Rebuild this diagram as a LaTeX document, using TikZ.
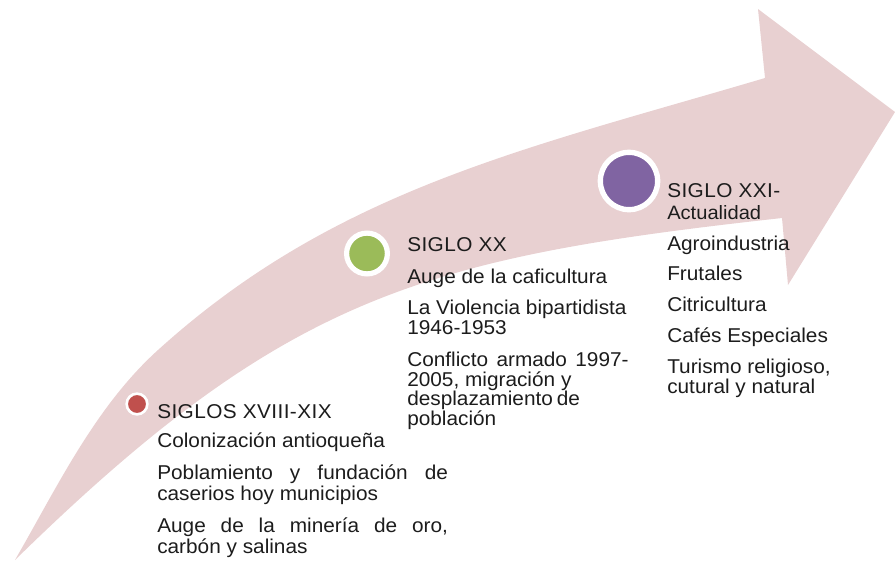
\documentclass[tikz,border=0pt]{standalone}
\usepackage{fontspec}
\setmainfont{Liberation Sans}[FakeStretch=1.04]
\definecolor{band}{RGB}{232,208,209}
\definecolor{ink}{RGB}{28,28,28}
\definecolor{cred}{HTML}{C0504D}
\definecolor{cgreen}{HTML}{9BBB59}
\definecolor{cpurple}{HTML}{8064A2}
\begin{document}
\begin{tikzpicture}[x=0.75pt,y=-0.75pt,
  txt/.style={anchor=base west, inner sep=0pt, text=ink, font=\fontsize{15}{15.4}\selectfont},
  head/.style={anchor=base west, inner sep=0pt, text=ink, font=\fontsize{15}{15.4}\selectfont\addfontfeatures{LetterSpace=2}},
  sub/.style={anchor=base west, inner sep=0pt, text=ink, font=\fontsize{14.5}{15.4}\selectfont},
  dot/.style={circle, draw=white, inner sep=0pt}]
\useasboundingbox (0,0) rectangle (895,561);
% curved arrow
\fill[band] (15,560) .. controls (57.5,486.4) and (95,407) .. (158,350)
  .. controls (335.6,189.2) and (525,149) .. (765,78)
  -- (758,9) -- (895,112) -- (788,285) -- (782,218)
  .. controls (424.2,257.6) and (286.7,294) .. (15,560) -- cycle;
% circles
\node[dot, fill=cred, line width=2pt, minimum size=15.5pt] (d1) at (137,404) {};
\node[dot, fill=cgreen, line width=3.9pt, minimum size=30.6pt] (d2) at (367,253.5) {};
\node[dot, fill=cpurple, line width=4pt, minimum size=43pt] (d3) at (629,181) {};
% column 1
\node[head] (a0) at (157,418) {SIGLOS XVIII-XIX};
\node[txt] (a1) at (157,447) {Colonización antioqueña};
\node[txt] (a2) at (157,479) {\makebox[218pt][s]{Poblamiento y fundación de}};
\node[txt] (a3) at (157,500) {caserios hoy municipios};
\node[txt] (a4) at (157,532) {\makebox[218pt][s]{Auge de la minería de oro,}};
\node[txt] (a5) at (157,553) {carbón y salinas};
% column 2
\node[head] (b0) at (407,251) {SIGLO XX};
\node[txt] (b1) at (407,283) {Auge de la caficultura};
\node[txt] (b2) at (407,314) {La Violencia bipartidista};
\node[txt] (b3) at (407,334) {1946-1953};
\node[txt] (b4) at (407,366) {\makebox[166pt][s]{Conflicto armado 1997-}};
\node[txt] (b5) at (407,386) {2005, migración y};
\node[txt] (b6) at (407,405) {\makebox[129pt][s]{desplazamiento de}};
\node[txt] (b7) at (407,425) {población};
% column 3
\node[head] (c0) at (667,197) {SIGLO XXI-};
\node[sub] (c1) at (667,219) {Actualidad};
\node[txt] (c2) at (667,250.7) {Agroindustria};
\node[txt] (c3) at (667,280) {Frutales};
\node[txt] (c4) at (667,311.7) {Citricultura};
\node[txt] (c5) at (667,342.3) {Cafés Especiales};
\node[txt] (c6) at (667,373.3) {Turismo religioso,};
\node[txt] (c7) at (667,393.3) {cutural y natural};
\end{tikzpicture}
\end{document}
